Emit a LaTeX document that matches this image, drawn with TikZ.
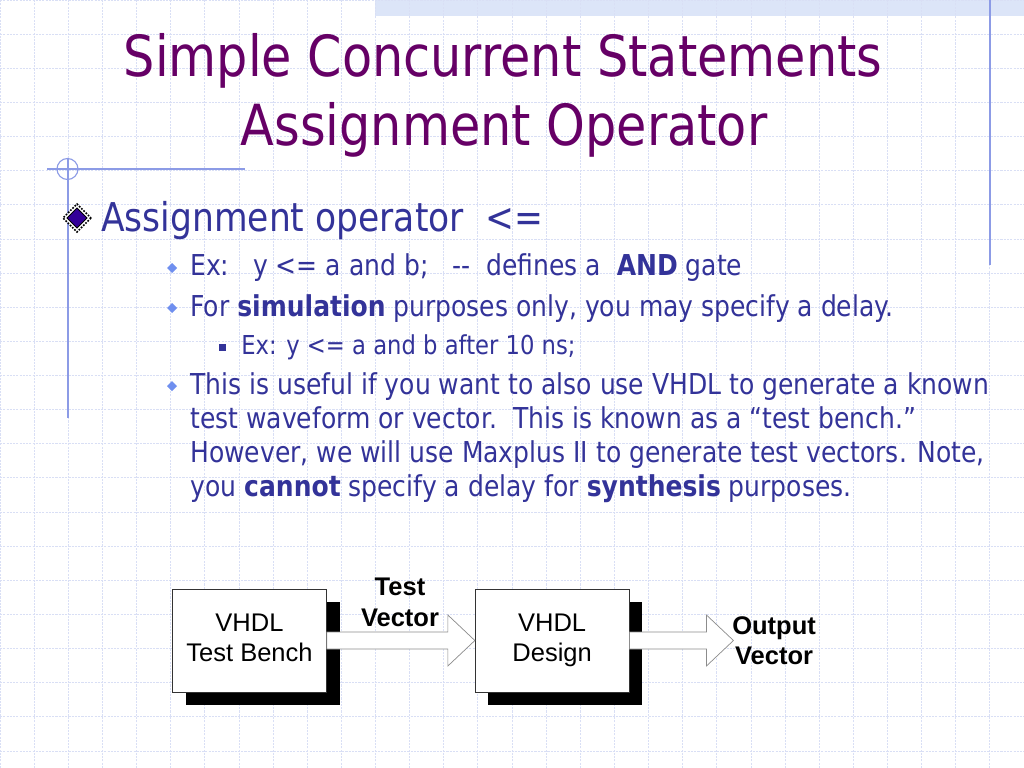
\documentclass[tikz,border=0pt]{standalone}
\usepackage{fontspec}
\usetikzlibrary{calc,positioning,shadows}
\newfontfamily\slidefont{DejaVu Sans}[FakeStretch=0.87]
\newfontfamily\boxfont{Liberation Sans}
\definecolor{titlepurple}{HTML}{660066}
\definecolor{textblue}{HTML}{333399}
\definecolor{bulletblue}{HTML}{6F8FEF}
\definecolor{bulletnavy}{HTML}{330099}
\definecolor{gridblue}{HTML}{D9DFF5}
\definecolor{rulerblue}{HTML}{8C9BE6}
\definecolor{bandblue}{HTML}{DCE5F8}
\def\diamondat[#1](#2)(#3){\draw[#1] ($(#2)+(#3,0)$) -- ($(#2)+(0,#3)$) -- ($(#2)+(-#3,0)$) -- ($(#2)+(0,-#3)$) -- cycle;}
\def\blockarrow(#1)(#2){\draw[blockarrow] ($(#1)+(0,8.5)$) -- ($(#2)+(-27,8.5)$) -- ($(#2)+(-27,25.5)$) -- (#2) -- ($(#2)+(-27,-25.5)$) -- ($(#2)+(-27,-8.5)$) -- ($(#1)+(0,-8.5)$) -- cycle;}

\begin{document}
\begin{tikzpicture}[x=0.70576pt, y=-0.70576pt,
		title/.style={text=titlepurple, font=\slidefont\fontsize{40}{48}\selectfont, anchor=base, inner sep=0},
		lvlone/.style={text=textblue, font=\slidefont\fontsize{28}{34}\selectfont, anchor=base west, inner sep=0},
		lvltwo/.style={text=textblue, font=\slidefont\fontsize{20.3}{24}\selectfont, anchor=base west, inner sep=0},
		lvlthree/.style={text=textblue, font=\slidefont\fontsize{18.4}{22}\selectfont, anchor=base west, inner sep=0},
		unitbox/.style={draw=black!80, fill=white, minimum width=108.7pt, minimum height=72.7pt, align=center, inner sep=0, font=\boxfont\fontsize{18}{21.2}\selectfont, drop shadow={shadow xshift=9.2pt, shadow yshift=-9.2pt, fill=black, opacity=1}},
		boxlabel/.style={font=\boxfont\bfseries\fontsize{18}{21.5}\selectfont, align=center, inner sep=0},
		blockarrow/.style={fill=white, draw=black!45, line width=0.5pt},
		gridline/.style={draw=gridblue, line width=0.6pt, dash pattern=on 1.5pt off 0.8pt},
		ruler/.style={draw=rulerblue, line width=0.8pt}]
		%%%%% START %%%%%
		
		\useasboundingbox (0,0) rectangle (1024,768);
		\fill[white] (0,0) rectangle (1024,768);
		\fill[bandblue] (375,0) rectangle (1024,16);
		\draw[gridline] (0,0) grid[step=24.09pt] (1024,768);
		
		\draw[ruler] (990,0) -- (990,265);
		\draw[ruler] (68,158) -- (68,418);
		\draw[ruler] (47,169) -- (245,169);
		\draw[ruler] (67.5,169) circle (10.5);
		
		\node[title] (titleA) at (503,77) {Simple Concurrent Statements};
		\node[title] (titleB) at (504,146) {Assignment Operator};
		
		\diamondat[fill=white, draw=black, densely dotted, line width=1.2pt](77,218)(14);
		\diamondat[fill=bulletnavy, draw=black, line width=0.6pt](77,218)(10);
		\node[lvlone] (assign) at (101,231) {Assignment operator\ \ <=};
		
		\diamondat[fill=bulletblue, draw=none](172,268)(5);
		\node[lvltwo] (exone) at (190,275) {Ex:\ \ \ y <= a and b;\ \ \ -{}-\ \ defines a\ \ \textbf{AND} gate};
		\diamondat[fill=bulletblue, draw=none](172,308)(5);
		\node[lvltwo] (sim) at (190,316) {For \textbf{simulation} purposes only, you may specify a delay.};
		\fill[textblue] (218.5,343.5) rectangle (225.5,350.5);
		\node[lvlthree] (extwo) at (241,354) {Ex: y <= a and b after 10 ns;};
		\diamondat[fill=bulletblue, draw=none](172,386)(5);
		\node[lvltwo] (useA) at (190,394) {This is useful if you want to also use VHDL to generate a known};
		\node[lvltwo] (useB) at (190,428) {test waveform or vector.\ \ This is known as a “test bench.”};
		\node[lvltwo] (useC) at (190,462) {However, we will use Maxplus II to generate test vectors. Note,};
		\node[lvltwo] (useD) at (190,496) {you \textbf{cannot} specify a delay for \textbf{synthesis} purposes.};
		
		\node[unitbox] (bench) at (249.5,640.5) {\strut VHDL\\\strut Test Bench};
		\node[unitbox, right=104.5pt of bench] (design) {\strut VHDL\\\strut Design};
		\coordinate[right=73.4pt of design] (outend);
		
		\blockarrow(bench.east)(design.west)
		\blockarrow(design.east)(outend)
		
		\node[boxlabel] (testvec) at (400,602.5) {Test\\Vector};
		\node[boxlabel, right=-1pt of outend] (outvec) {Output\\Vector};
		
		%%%%% END %%%%%
\end{tikzpicture}
\end{document}
